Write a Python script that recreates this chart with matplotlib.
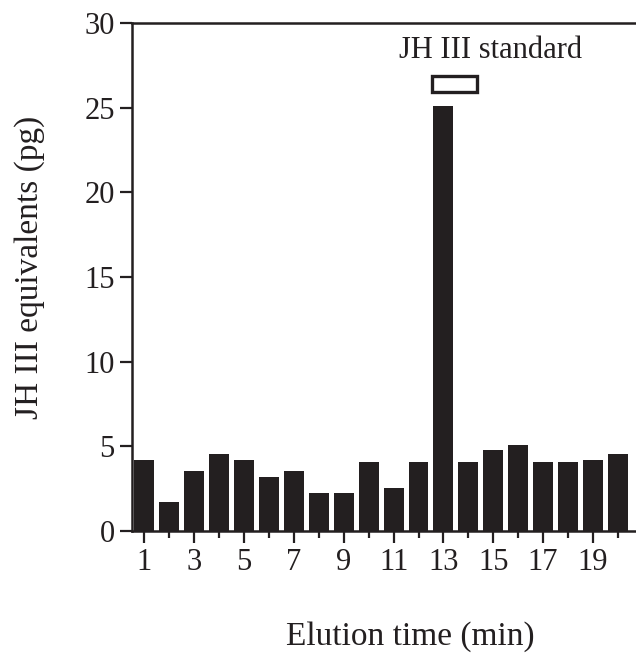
import matplotlib
matplotlib.use("Agg")
import matplotlib.pyplot as plt
from matplotlib.patches import Rectangle
from matplotlib.ticker import MultipleLocator

plt.rcParams['font.family'] = ['Liberation Serif', 'DejaVu Serif']

elution_min = list(range(1, 21))
jh_equiv_pg = [4.17, 1.72, 3.53, 4.57, 4.17, 3.16, 3.53, 2.27, 2.27, 4.05,
               2.52, 4.05, 25.1, 4.05, 4.81, 5.06, 4.07, 4.07, 4.17, 4.57]
xtick_labels = ['1', '3', '5', '7', '9', '11', '13', '15', '17', '19']
standard_label = 'JH III standard'

W, H = 636, 653
INK = '#231f20'
fig = plt.figure(figsize=(W / 100, H / 100), dpi=100)
ax = fig.add_axes([132 / W, (H - 531) / H, 1 - 132 / W, (531 - 23) / H])

ax.bar(elution_min, jh_equiv_pg, width=0.8, color=INK, edgecolor='none', zorder=2)

# hollow marker for standard elution window
ax.add_patch(Rectangle((12.55, 25.9), 1.8, 0.95, fill=False, edgecolor=INK,
                       linewidth=2.4, zorder=3))
ax.text(14.9, 27.94, standard_label, ha='center', va='baseline', fontsize=22, color=INK)

ax.set_xlim(0.5, 20.73)
ax.set_ylim(0, 30)
ax.yaxis.set_major_locator(MultipleLocator(5))
ax.set_xticks(list(range(1, 21, 2)))
ax.set_xticklabels(xtick_labels)
ax.set_xticks(list(range(2, 21, 2)), minor=True)

for s in ['left', 'bottom', 'top']:
    ax.spines[s].set_linewidth(1.8)
    ax.spines[s].set_color(INK)
ax.spines['right'].set_visible(False)

ax.tick_params(axis='both', which='major', direction='out', length=8.5, width=1.6,
               labelsize=22, colors=INK, pad=4)
ax.tick_params(axis='x', which='minor', direction='out', length=5, width=1.6, colors=INK)
ax.tick_params(axis='y', which='both', left=True, right=False)

fig.text(30 / W, 1 - 267 / H, 'JH III equivalents (pg)', rotation=90, ha='center',
         va='center', fontsize=24, color=INK)
fig.text(410 / W, 1 - 645 / H, 'Elution time (min)', ha='center', va='baseline',
         fontsize=24, color=INK)

fig.savefig('out.png', dpi=100)
